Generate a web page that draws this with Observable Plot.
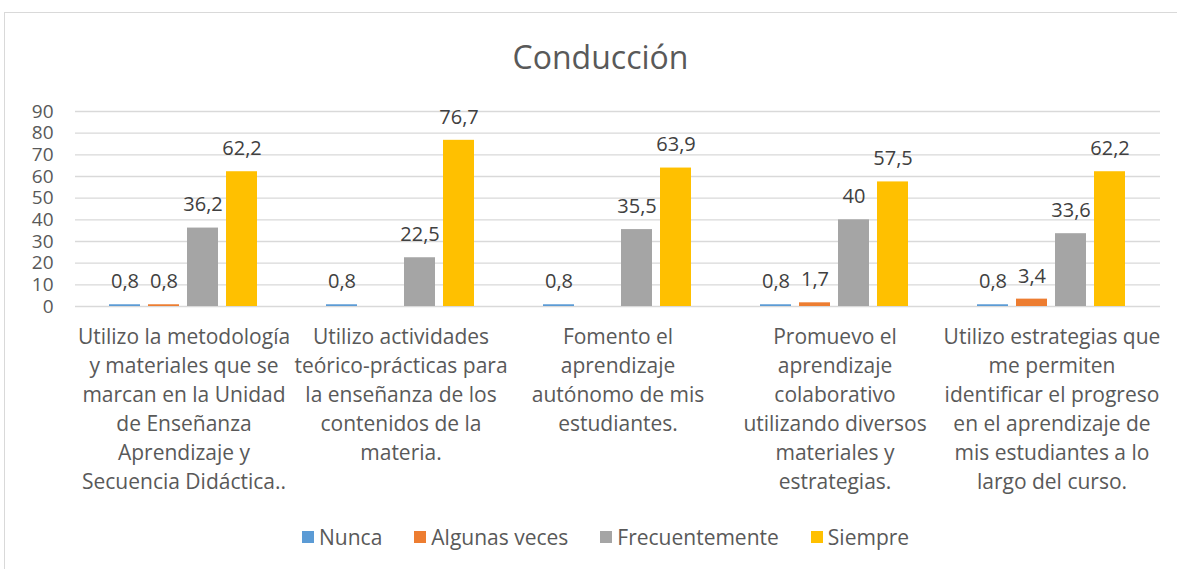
<!DOCTYPE html>
<html>
<head>
<meta charset="utf-8">
<script src="https://cdn.jsdelivr.net/npm/d3@7"></script>
<script src="https://cdn.jsdelivr.net/npm/@observablehq/plot@0.6"></script>
<style>
  html, body { margin: 0; padding: 0; background: #fff; overflow: hidden; width: 1177px; height: 569px; }
  body { position: relative; font-family: "Open Sans", Lato, sans-serif; }
  #frame { position: absolute; left: 4px; top: 12px; width: 1400px; height: 800px; border-top: 1px solid #d9d9d9; border-left: 1px solid #d9d9d9; }
  #title { position: absolute; left: 0; width: 1201px; top: 35px; text-align: center; font-size: 32px; color: #595959; line-height: 44px; }
  #chart { position: absolute; left: 0; top: 95px; }
  #legend { position: absolute; top: 524px; left: 302px; display: flex; align-items: center; font-size: 21px; color: #595959; line-height: 26px; }
  .item { display: flex; align-items: center; margin-right: 32px; }
  .sw { width: 12px; height: 12px; margin-right: 5px; }
</style>
</head>
<body>
<div id="frame"></div>
<div id="title">Conducción</div>
<div id="chart"></div>
<div id="legend"></div>
<script>
const categories = [
  "Utilizo la metodología\ny materiales que se\nmarcan en la Unidad\nde Enseñanza\nAprendizaje y\nSecuencia Didáctica..",
  "Utilizo actividades\nteórico-prácticas para\nla enseñanza de los\ncontenidos de la\nmateria.",
  "Fomento el\naprendizaje\nautónomo de mis\nestudiantes.",
  "Promuevo el\naprendizaje\ncolaborativo\nutilizando diversos\nmateriales y\nestrategias.",
  "Utilizo estrategias que\nme permiten\nidentificar el progreso\nen el aprendizaje de\nmis estudiantes a lo\nlargo del curso."
];
const series = ["Nunca", "Algunas veces", "Frecuentemente", "Siempre"];
const nunca = [0.8, 0.8, 0.8, 0.8, 0.8];
const algunasVeces = [0.8, null, null, 1.7, 3.4];
const frecuentemente = [36.2, 22.5, 35.5, 40, 33.6];
const siempre = [62.2, 76.7, 63.9, 57.5, 62.2];
const colors = ["#5B9BD5", "#ED7D31", "#A5A5A5", "#FFC000"];
const yTicks = [0, 10, 20, 30, 40, 50, 60, 70, 80, 90];

const valuesBySeries = [nunca, algunasVeces, frecuentemente, siempre];
const data = [];
categories.forEach((c, i) => {
  series.forEach((s, j) => {
    const v = valuesBySeries[j][i];
    if (v != null) data.push({cat: c, serie: s, value: v});
  });
});
const fmt = v => String(v).replace(".", ",");

const chart = Plot.plot({
  width: 1177,
  height: 410,
  marginTop: 16,
  marginBottom: 199,
  marginLeft: 73,
  marginRight: 15,
  style: {fontFamily: "'Open Sans', Lato, sans-serif", color: "#595959", background: "transparent", overflow: "visible"},
  fx: {domain: categories, padding: 0, axis: null},
  x: {domain: series, paddingInner: 0.2, paddingOuter: 0.86, axis: null},
  y: {domain: [0, 90], axis: null},
  color: {domain: series, range: colors},
  marks: [
    Plot.gridY(yTicks, {stroke: "#d9d9d9", strokeOpacity: 1, strokeWidth: 1.3}),
    Plot.axisY(yTicks, {tickSize: 0, tickPadding: 22, fontSize: 19, fill: "#595959", label: null}),
    Plot.barY(data, {fx: "cat", x: "serie", y: "value", fill: "serie"}),
    Plot.text(data, {fx: "cat", x: "serie", y: "value", text: d => fmt(d.value), dy: -23, fontSize: 20, fill: "#404040"}),
    Plot.text(categories, {fx: d => d, text: d => d, frameAnchor: "bottom", lineAnchor: "top", dy: 17, lineHeight: 1.38, fontSize: 21, fill: "#595959"})
  ]
});
document.getElementById("chart").appendChild(chart);

const legend = document.getElementById("legend");
series.forEach((s, j) => {
  const item = document.createElement("div");
  item.className = "item";
  const sw = document.createElement("div");
  sw.className = "sw";
  sw.style.background = colors[j];
  const t = document.createElement("span");
  t.textContent = s;
  item.appendChild(sw);
  item.appendChild(t);
  legend.appendChild(item);
});
</script>
</body>
</html>
